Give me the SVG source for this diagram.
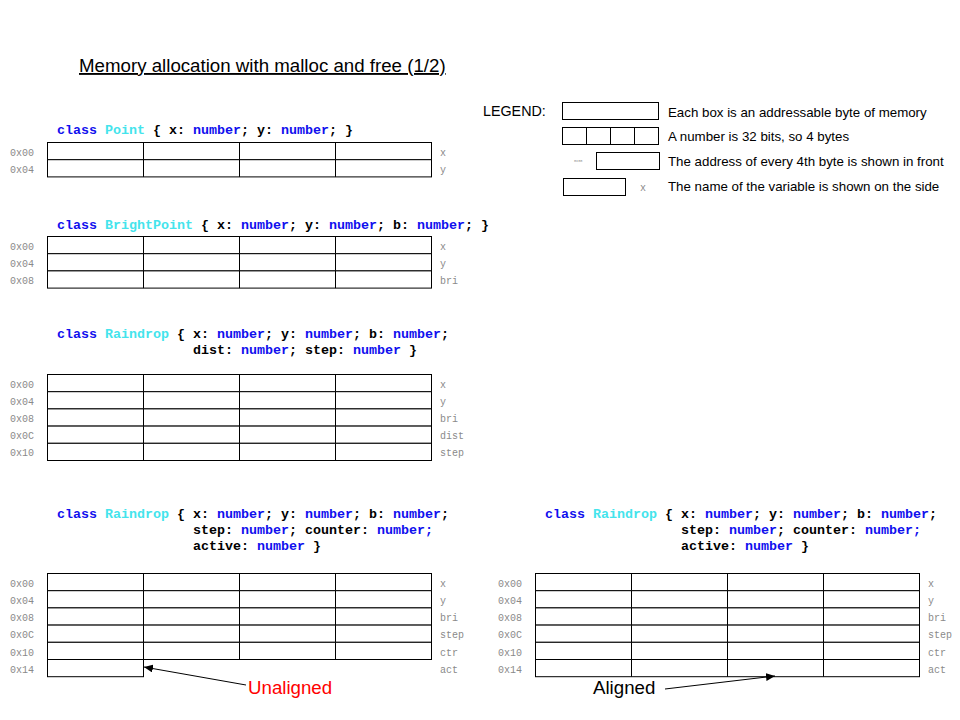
<svg xmlns="http://www.w3.org/2000/svg" xmlns:xlink="http://www.w3.org/1999/xlink" width="960" height="720" viewBox="0 0 960 720">
<style>
.code{font-family:"Liberation Mono",monospace;font-size:13.33px;font-weight:bold;fill:#000}
.kw{fill:#1010ee}
.cn{fill:#44e4ec}
.addr{font-family:"Liberation Mono",monospace;font-size:10px;fill:#8a8a8a}
.lbl{font-family:"Liberation Mono",monospace;font-size:10px;fill:#8a8a8a}
.sans{font-family:"Liberation Sans",Arial,sans-serif;fill:#000}
.cell{fill:#fff;stroke:#000;stroke-width:1}
.conn{stroke:#000;stroke-width:1;fill:none}
</style>
<defs>
<g id="row">
<rect class="cell" x="0" y="0" width="384" height="17.2"/>
<line class="conn" x1="96" y1="0" x2="96" y2="17.2"/>
<line class="conn" x1="192" y1="0" x2="192" y2="17.2"/>
<line class="conn" x1="288" y1="0" x2="288" y2="17.2"/>
</g>
<marker id="arr" markerWidth="10" markerHeight="8" refX="9" refY="4" orient="auto" markerUnits="userSpaceOnUse">
<path d="M0,0 L9,4 L0,8 Z" fill="#000"/>
</marker>
</defs>
<rect width="960" height="720" fill="#fff"/>

<g id="title">
<text class="sans" x="79" y="72" font-size="18.7" text-decoration="underline">Memory allocation with malloc and free (1/2)</text>
</g>

<g id="legend">
<text class="sans" x="483" y="116" font-size="14.3">LEGEND:</text>
<rect class="cell" x="562.5" y="102.5" width="96" height="17"/>
<text class="sans" x="668" y="117" font-size="13.3">Each box is an addressable byte of memory</text>
<rect class="cell" x="562.5" y="127.5" width="96" height="17"/>
<line class="conn" x1="586.5" y1="127.5" x2="586.5" y2="144.5"/>
<line class="conn" x1="610.5" y1="127.5" x2="610.5" y2="144.5"/>
<line class="conn" x1="634.5" y1="127.5" x2="634.5" y2="144.5"/>
<text class="sans" x="668" y="141" font-size="13.3">A number is 32 bits, so 4 bytes</text>
<text class="addr" x="574" y="162" style="font-size:3.5px">0x00</text>
<rect class="cell" x="596.5" y="152.5" width="63" height="17"/>
<text class="sans" x="668" y="166" font-size="13.3">The address of every 4th byte is shown in front</text>
<rect class="cell" x="563.5" y="178.5" width="62" height="17"/>
<text class="lbl" x="640" y="191">x</text>
<text class="sans" x="668" y="191" font-size="13.3">The name of the variable is shown on the side</text>
</g>

<g id="point">
<text class="code" x="57" y="134"><tspan class="kw">class</tspan> <tspan class="cn">Point</tspan> { x: <tspan class="kw">number</tspan>; y: <tspan class="kw">number</tspan>; }</text>
<use xlink:href="#row" x="47.5" y="142.5"/>
<use xlink:href="#row" x="47.5" y="159.7"/>
<text class="addr" x="10" y="156">0x00</text>
<text class="addr" x="10" y="173">0x04</text>
<text class="lbl" x="440" y="156">x</text>
<text class="lbl" x="440" y="173">y</text>
</g>

<g id="brightpoint">
<text class="code" x="57" y="229"><tspan class="kw">class</tspan> <tspan class="cn">BrightPoint</tspan> { x: <tspan class="kw">number</tspan>; y: <tspan class="kw">number</tspan>; b: <tspan class="kw">number</tspan>; }</text>
<use xlink:href="#row" x="47.5" y="236.5"/>
<use xlink:href="#row" x="47.5" y="253.7"/>
<use xlink:href="#row" x="47.5" y="270.9"/>
<text class="addr" x="10" y="250">0x00</text>
<text class="addr" x="10" y="267">0x04</text>
<text class="addr" x="10" y="284">0x08</text>
<text class="lbl" x="440" y="250">x</text>
<text class="lbl" x="440" y="267">y</text>
<text class="lbl" x="440" y="284">bri</text>
</g>

<g id="raindrop1">
<text class="code" x="57" y="338"><tspan class="kw">class</tspan> <tspan class="cn">Raindrop</tspan> { x: <tspan class="kw">number</tspan>; y: <tspan class="kw">number</tspan>; b: <tspan class="kw">number</tspan>;</text>
<text class="code" x="193" y="354">dist: <tspan class="kw">number</tspan>; step: <tspan class="kw">number</tspan> }</text>
<use xlink:href="#row" x="47.5" y="374.5"/>
<use xlink:href="#row" x="47.5" y="391.7"/>
<use xlink:href="#row" x="47.5" y="408.9"/>
<use xlink:href="#row" x="47.5" y="426.1"/>
<use xlink:href="#row" x="47.5" y="443.3"/>
<text class="addr" x="10" y="388">0x00</text>
<text class="addr" x="10" y="405">0x04</text>
<text class="addr" x="10" y="422">0x08</text>
<text class="addr" x="10" y="439">0x0C</text>
<text class="addr" x="10" y="456">0x10</text>
<text class="lbl" x="440" y="388">x</text>
<text class="lbl" x="440" y="405">y</text>
<text class="lbl" x="440" y="422">bri</text>
<text class="lbl" x="440" y="439">dist</text>
<text class="lbl" x="440" y="456">step</text>
</g>

<g id="raindrop2">
<text class="code" x="57" y="518"><tspan class="kw">class</tspan> <tspan class="cn">Raindrop</tspan> { x: <tspan class="kw">number</tspan>; y: <tspan class="kw">number</tspan>; b: <tspan class="kw">number</tspan>;</text>
<text class="code" x="193" y="534">step: <tspan class="kw">number</tspan>; counter: <tspan class="kw">number;</tspan></text>
<text class="code" x="193" y="550">active: <tspan class="kw">number</tspan> }</text>
<use xlink:href="#row" x="47.5" y="573.5"/>
<use xlink:href="#row" x="47.5" y="590.7"/>
<use xlink:href="#row" x="47.5" y="607.9"/>
<use xlink:href="#row" x="47.5" y="625.1"/>
<use xlink:href="#row" x="47.5" y="642.3"/>
<rect class="cell" x="47.5" y="659.5" width="96" height="17.2"/>
<text class="addr" x="10" y="587">0x00</text>
<text class="addr" x="10" y="604">0x04</text>
<text class="addr" x="10" y="621">0x08</text>
<text class="addr" x="10" y="638">0x0C</text>
<text class="addr" x="10" y="656">0x10</text>
<text class="addr" x="10" y="673">0x14</text>
<text class="lbl" x="440" y="587">x</text>
<text class="lbl" x="440" y="604">y</text>
<text class="lbl" x="440" y="621">bri</text>
<text class="lbl" x="440" y="638">step</text>
<text class="lbl" x="440" y="656">ctr</text>
<text class="lbl" x="440" y="673">act</text>
</g>

<g id="raindrop3">
<text class="code" x="545" y="518"><tspan class="kw">class</tspan> <tspan class="cn">Raindrop</tspan> { x: <tspan class="kw">number</tspan>; y: <tspan class="kw">number</tspan>; b: <tspan class="kw">number</tspan>;</text>
<text class="code" x="681" y="534">step: <tspan class="kw">number</tspan>; counter: <tspan class="kw">number;</tspan></text>
<text class="code" x="681" y="550">active: <tspan class="kw">number</tspan> }</text>
<use xlink:href="#row" x="535.5" y="573.5"/>
<use xlink:href="#row" x="535.5" y="590.7"/>
<use xlink:href="#row" x="535.5" y="607.9"/>
<use xlink:href="#row" x="535.5" y="625.1"/>
<use xlink:href="#row" x="535.5" y="642.3"/>
<use xlink:href="#row" x="535.5" y="659.5"/>
<text class="addr" x="498" y="587">0x00</text>
<text class="addr" x="498" y="604">0x04</text>
<text class="addr" x="498" y="621">0x08</text>
<text class="addr" x="498" y="638">0x0C</text>
<text class="addr" x="498" y="656">0x10</text>
<text class="addr" x="498" y="673">0x14</text>
<text class="lbl" x="928" y="587">x</text>
<text class="lbl" x="928" y="604">y</text>
<text class="lbl" x="928" y="621">bri</text>
<text class="lbl" x="928" y="638">step</text>
<text class="lbl" x="928" y="656">ctr</text>
<text class="lbl" x="928" y="673">act</text>
</g>

<g id="unaligned">
<text class="sans" x="248" y="694" font-size="18.7" style="fill:#ff0000">Unaligned</text>
</g>
<g id="aligned">
<text class="sans" x="593" y="694" font-size="18.7">Aligned</text>
</g>

<g id="connectors">
<line class="conn" x1="246" y1="685" x2="144" y2="667" marker-end="url(#arr)"/>
<line class="conn" x1="665" y1="689" x2="775" y2="676" marker-end="url(#arr)"/>
</g>
</svg>
